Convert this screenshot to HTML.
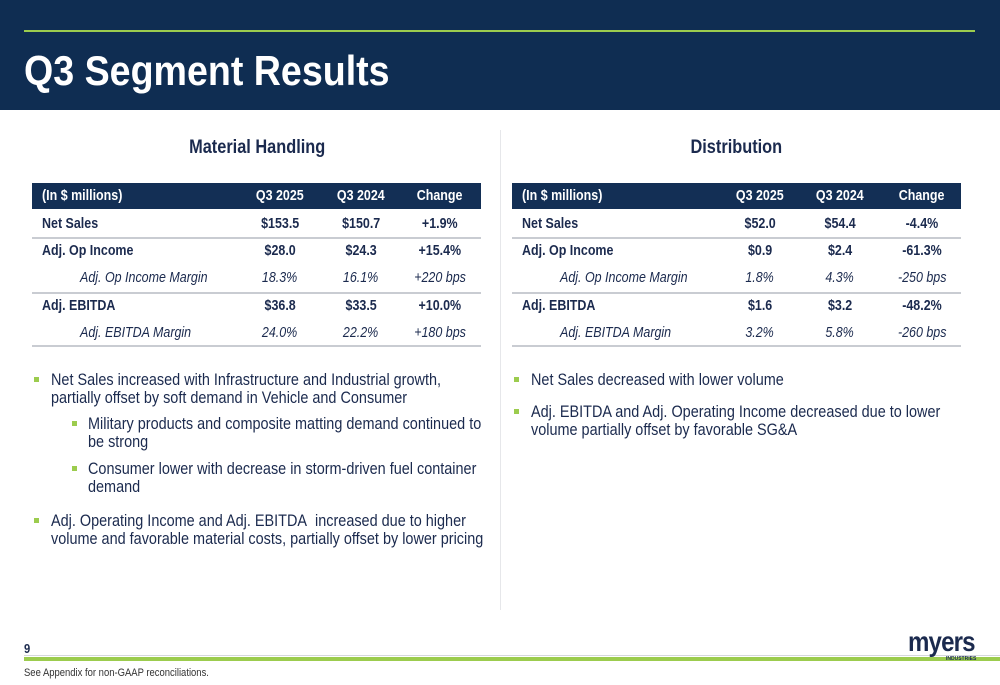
<!DOCTYPE html>
<html><head><meta charset="utf-8"><style>
body{margin:0;width:1000px;height:685px;position:relative;overflow:hidden;background:#fff;font-family:"Liberation Sans",Arial,sans-serif;color:#1b2a4e}
.a{position:absolute;white-space:nowrap}
.n{transform:scaleX(.86);transform-origin:left center;display:inline-block}
.c{transform:scaleX(.86);transform-origin:center center;display:inline-block}
.cell{position:absolute;white-space:nowrap;text-align:center;width:80px;line-height:26px;font-size:14.5px}
.b{font-weight:bold}.i{font-style:italic}
.hdr{position:absolute;background:#132f55;height:26px}
.rule{position:absolute;height:2px;background:#c9ccd2}
.bul{position:absolute;font-size:16.5px;line-height:18px;white-space:nowrap}
.bul .n{transform:scaleX(.875)}
.sq{position:absolute;width:5px;height:5px;background:#9ccc4e}
</style></head><body>
<div class="a" style="left:0;top:0;width:1000px;height:110px;background:#0f2d52"></div>
<div class="a" style="left:24px;top:30px;width:951px;height:2px;background:#9ccc4e"></div>
<div class="a b" style="left:24px;top:46px;font-size:42px;color:#fff;line-height:50px"><span class="n" style="transform:scaleX(.895)">Q3 Segment Results</span></div>
<div class="a" style="left:500px;top:130px;width:1px;height:480px;background:#e6e7ea"></div>

<div class="a b" style="left:32px;width:450px;top:137px;text-align:center;font-size:19px"><span class="c">Material Handling</span></div>
<div class="a b" style="left:511px;width:450px;top:137px;text-align:center;font-size:19px"><span class="c">Distribution</span></div>

<div id="tables"></div>

<div class="sq" style="left:34px;top:377px"></div>
<div class="bul" style="left:51px;top:371px"><span class="n">Net Sales increased with Infrastructure and Industrial growth,<br>partially offset by soft demand in Vehicle and Consumer</span></div>
<div class="sq" style="left:72px;top:421px"></div>
<div class="bul" style="left:88px;top:415px"><span class="n">Military products and composite matting demand continued to<br>be strong</span></div>
<div class="sq" style="left:72px;top:466px"></div>
<div class="bul" style="left:88px;top:460px"><span class="n">Consumer lower with decrease in storm-driven fuel container<br>demand</span></div>
<div class="sq" style="left:34px;top:518px"></div>
<div class="bul" style="left:51px;top:512px"><span class="n">Adj. Operating Income and Adj. EBITDA&nbsp; increased due to higher<br>volume and favorable material costs, partially offset by lower pricing</span></div>

<div class="sq" style="left:514px;top:377px"></div>
<div class="bul" style="left:531px;top:371px"><span class="n">Net Sales decreased with lower volume</span></div>
<div class="sq" style="left:514px;top:409px"></div>
<div class="bul" style="left:531px;top:403px"><span class="n">Adj. EBITDA and Adj. Operating Income decreased due to lower<br>volume partially offset by favorable SG&amp;A</span></div>

<div class="a b" style="left:24px;top:641px;font-size:13px"><span class="n">9</span></div>
<div class="a" style="left:24px;top:655px;width:976px;height:1px;background:#d6d8dc"></div>
<div class="a" style="left:24px;top:657px;width:976px;height:4px;background:#9ccc4e"></div>
<div class="a" style="left:24px;top:667px;font-size:11px;color:#333"><span class="n">See Appendix for non-GAAP reconciliations.</span></div>
<div class="a b" style="left:908px;top:628px;font-size:28px;color:#1b2a4e;line-height:28px;letter-spacing:-1px"><span class="n">myers</span></div>
<div class="a b" style="left:946px;top:656px;font-size:5px;color:#1b2a4e">INDUSTRIES</div>

<script>
const rowLabels=["Net Sales","Adj. Op Income","Adj. Op Income Margin","Adj. EBITDA","Adj. EBITDA Margin"];
const rowStyle=["b","b","i","b","i"];
const mh2025=["$153.5","$28.0","18.3%","$36.8","24.0%"];
const mh2024=["$150.7","$24.3","16.1%","$33.5","22.2%"];
const mhChg=["+1.9%","+15.4%","+220 bps","+10.0%","+180 bps"];
const d2025=["$52.0","$0.9","1.8%","$1.6","3.2%"];
const d2024=["$54.4","$2.4","4.3%","$3.2","5.8%"];
const dChg=["-4.4%","-61.3%","-250 bps","-48.2%","-260 bps"];
const heads=["(In $ millions)","Q3 2025","Q3 2024","Change"];
const root=document.getElementById('tables');
function mk(cls,x,y,txt,center,w){const d=document.createElement('div');d.className=cls;d.style.left=x+'px';d.style.top=y+'px';if(w)d.style.width=w+'px';
if(!center){d.style.textAlign='left';d.style.width='auto';}
const s=document.createElement('span');s.className=center?'c':'n';s.textContent=txt;d.appendChild(s);root.appendChild(d);return d;}
function table(key,x0,w,cols,c1,c2,c3){
 const h=document.createElement('div');h.className='hdr';h.style.left=x0+'px';h.style.top='183px';h.style.width=w+'px';
 
 
 root.appendChild(h);
 heads.forEach((t,i)=>{const el=mk('cell b',i?cols[i]-40:x0+10,183,t,i>0,80);el.style.color='#fff';
  
  });
 const ys=[211,238,265,293,320];
 rowLabels.forEach((l,r)=>{
  const el=mk('cell '+rowStyle[r],rowStyle[r]=='i'?x0+48:x0+10,ys[r],l,false);
  
  
  [c1,c2,c3].forEach((arr,k)=>{const v=mk('cell '+rowStyle[r],cols[k+1]-40,ys[r],arr[r],true,80);
   
   });
 });
 [237,292,345].forEach((y,i)=>{const ln=document.createElement('div');ln.className='rule';ln.style.left=x0+'px';ln.style.top=y+'px';ln.style.width=w+'px';
  
  
  root.appendChild(ln);});
}
table('mh',32,449,[0,280,361,440],mh2025,mh2024,mhChg);
table('dist',512,449,[0,760,840,922],d2025,d2024,dChg);
</script>
</body></html>
